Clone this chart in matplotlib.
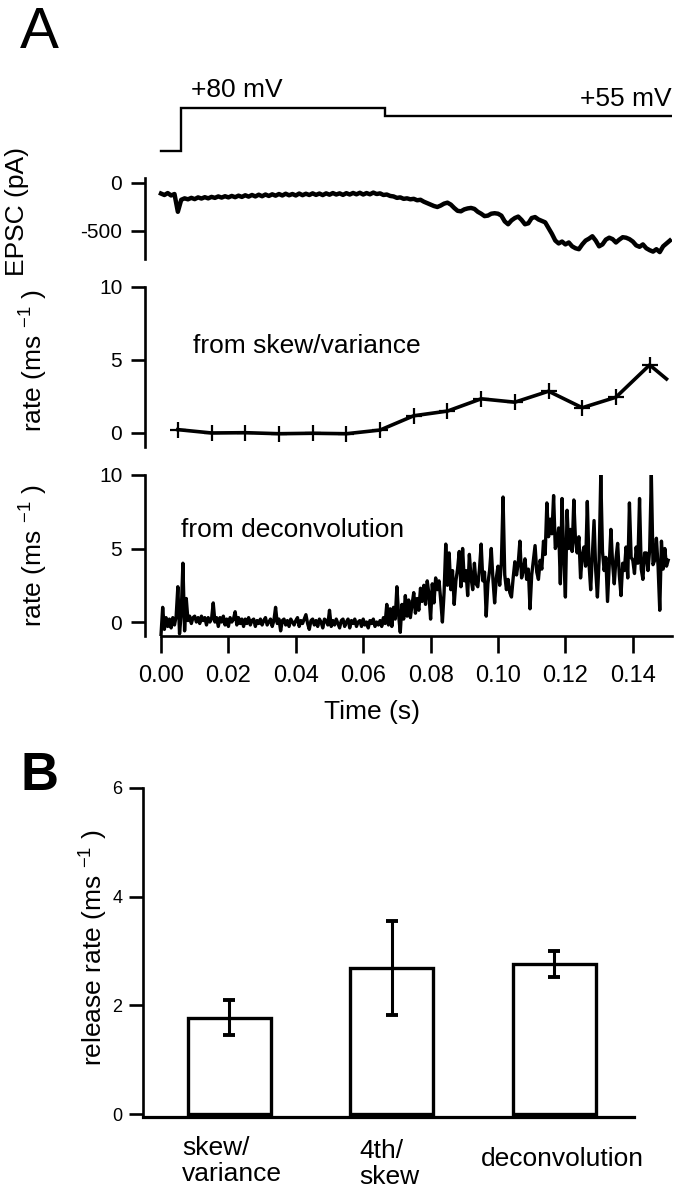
import numpy as np
import matplotlib
matplotlib.use("Agg")
import matplotlib.pyplot as plt

plt.rcParams['font.family'] = ['Liberation Sans', 'DejaVu Sans']
plt.rcParams['mathtext.fontset'] = 'custom'
plt.rcParams['mathtext.rm'] = 'Liberation Sans'
plt.rcParams['mathtext.it'] = 'Liberation Sans'

# --- data ---
# command voltage (mV): holding, step to +80, then +55
volt_t = [0.0, 0.0058, 0.0058, 0.0665, 0.0665, 0.1525]
volt_mv = [-70, -70, 80, 80, 55, 55]

# EPSC (pA), sampled every 1 ms from 0 to 0.151 s
epsc_dt = 0.001
epsc_pa = [
    -110, -125, -105, -130, -115, -300, -175, -160, -170, -155,
    -168, -150, -162, -148, -160, -145, -155, -140, -152, -138,
    -150, -135, -148, -132, -145, -128, -142, -125, -140, -122,
    -138, -120, -135, -118, -132, -115, -130, -112, -128, -115,
    -130, -110, -127, -112, -125, -108, -124, -110, -126, -108,
    -122, -105, -120, -108, -124, -106, -120, -104, -118, -102,
    -120, -105, -118, -100, -115, -108, -125, -120, -135, -140,
    -155, -150, -165, -160, -170, -165, -180, -175, -195, -210,
    -225, -240, -250, -235, -215, -205, -225, -260, -290, -295,
    -275, -265, -260, -270, -300, -320, -345, -340, -320, -315,
    -320, -340, -400, -430, -390, -365, -350, -385, -430, -420,
    -365, -355, -380, -395, -410, -470, -530, -600, -630, -610,
    -640, -620, -660, -680, -690, -640, -600, -580, -555, -600,
    -660, -640, -590, -570, -585, -620, -590, -565, -570, -585,
    -610, -650, -665, -640, -680, -700, -715, -690, -720, -660,
    -630, -600,
]

# rate from skew/variance (ms^-1)
skew_t = [0.005, 0.015, 0.025, 0.035, 0.045, 0.055, 0.065, 0.075,
          0.085, 0.095, 0.105, 0.115, 0.125, 0.135, 0.145, 0.150]
skew_rate = [0.23, 0.0, 0.02, -0.05, -0.02, -0.05, 0.2, 1.18,
             1.5, 2.34, 2.11, 2.86, 1.73, 2.45, 4.66, 3.7]

# rate from deconvolution (ms^-1), sampled every 0.5 ms
dec_dt = 0.0005
dec_rate = [
    -0.9, 1.0, -0.5, 0.3, -0.3, 0.2, -0.4, 0.3, -0.2, 0.4,
    2.4, -0.8, 0.6, 4.0, -0.6, 1.6, 0.1, 0.4, -0.1, 0.3,
    0.4, 0.0, 0.3, -0.1, 0.4, 0.1, 0.3, -0.2, 0.3, 0.0,
    0.2, 1.3, 0.0, 0.3, -0.3, 0.3, 0.0, 0.4, -0.2, 0.2,
    -0.3, 0.3, 0.0, 0.2, 0.7, -0.2, 0.3, -0.1, 0.2, -0.3,
    0.2, -0.1, 0.3, -0.2, 0.1, 0.2, -0.3, 0.1, -0.1, 0.2,
    -0.2, 0.1, 0.3, -0.2, 0.0, 0.2, -0.3, 0.1, 1.0, -0.1,
    0.2, -0.6, 0.1, 0.2, -0.2, 0.1, -0.3, 0.2, 0.0, -0.2,
    0.1, 0.3, -0.3, 0.1, -0.1, 0.2, 0.5, -0.1, -0.5, 0.1,
    0.2, -0.2, 0.1, -0.3, 0.2, 0.0, -0.4, 0.2, 0.1, -0.2,
    0.8, -0.3, 0.1, -0.2, 0.2, -0.1, -0.4, 0.1, 0.2, -0.3,
    0.0, 0.2, -0.4, 0.1, -0.1, 0.2, -0.3, 0.0, 0.1, -0.3,
    0.2, -0.2, 0.0, -0.4, 0.1, -0.1, 0.2, -0.3, 0.0, -0.2,
    0.1, -0.3, 0.3, -0.1,
    1.2, -0.2, 0.9, -0.3, 1.0, 0.2, 2.4, 0.5, -0.7, 1.2,
    0.2, 1.8, 0.4, 1.5, 0.3, 1.2, 2.0, 0.6, 1.6, 0.8,
    2.3, 1.4, 2.5, 1.2, 2.8, 1.9, 0.2, 2.6, 1.3, 3.0,
    2.2, 2.8, 1.5, 0.0, 2.0, 5.3, 2.5, 4.7, 2.2, 3.5,
    1.2, 2.8, 3.6, 4.8, 2.4, 5.0, 2.8, 3.5, 1.8, 4.6,
    3.0, 2.2, 4.0, 2.6,
    2.4, 3.6, 5.3, 2.8, 3.4, 0.4, 2.6, 3.5, 5.0, 2.9,
    1.3, 3.0, 3.8, 2.5, 4.0, 8.5, 3.2, 2.2, 2.9, 2.0,
    1.7, 3.0, 4.1, 3.2, 4.0, 5.5, 3.0, 3.5, 4.3, 2.9,
    3.6, 0.9, 3.2, 4.2, 5.2, 3.4, 2.9, 4.2, 3.6, 5.5,
    4.6, 8.1, 5.8, 7.0, 6.0, 8.6, 5.0, 5.35, 6.4, 2.6,
    8.4, 4.5, 1.7, 7.6, 5.0, 6.3, 4.8, 8.3, 5.5, 4.7,
    5.8, 3.0, 4.5, 5.1, 3.8, 8.2, 4.0, 2.2, 4.6, 6.9,
    3.5, 1.7, 4.2, 10.0, 4.8, 3.5, 4.4, 1.4, 3.9, 6.3,
    4.0, 2.6, 4.3, 5.35, 3.2, 1.8, 4.0, 3.5, 5.1, 3.0,
    8.1, 4.4, 4.2, 3.3, 5.1, 4.0, 8.4, 3.6, 2.9, 4.7,
    4.7, 3.5, 4.9, 10.0, 3.9, 4.2, 5.7, 3.8, 0.8, 5.5,
    3.6, 5.0, 3.8, 4.2,
]

# panel B
methods = ["skew/\nvariance", "4th/\nskew", "deconvolution"]
release_mean = [1.77, 2.69, 2.76]
release_err = [0.32, 0.87, 0.24]

# --- layout helpers (pixel coordinates, origin top-left) ---
W, H = 698, 1200
fig = plt.figure(figsize=(W / 100, H / 100), dpi=100)


def rect(x0, y0, x1, y1):
    return [x0 / W, 1 - y1 / H, (x1 - x0) / W, (y1 - y0) / H]


def ftext(x, y, s, **kw):
    fig.text(x / W, 1 - y / H, s, **kw)


LW_SPINE = 1.9
AX_L, AX_R = 144.5, 672
T_PER_PX = 1 / 3370.0
XLIM = (-(161 - AX_L) * T_PER_PX, (AX_R - 161) * T_PER_PX)


def style_left(ax, labelsize=15):
    for s in ['top', 'right', 'bottom']:
        ax.spines[s].set_visible(False)
    ax.spines['left'].set_linewidth(LW_SPINE)
    ax.tick_params(axis='y', length=10, width=LW_SPINE, pad=6,
                   labelsize=labelsize, direction='out')
    ax.set_xticks([])
    ax.set_xlim(*XLIM)


# voltage command
ax_v = fig.add_axes(rect(AX_L, 100, AX_R, 160))
ax_v.plot(volt_t, volt_mv, color='black', lw=1.7, solid_joinstyle='miter')
ax_v.set_xlim(*XLIM)
ax_v.set_ylim(-101.8, 110)
ax_v.axis('off')
ftext(191, 90, "+80 mV", fontsize=19, va='center', ha='left')
ftext(672, 99, "+55 mV", fontsize=19, va='center', ha='right')

# EPSC
ax_e = fig.add_axes(rect(AX_L, 178, AX_R, 259))
epsc_t = np.arange(len(epsc_pa)) * epsc_dt
ax_e.plot(epsc_t, epsc_pa, color='black', lw=3.2)
style_left(ax_e)
ax_e.set_ylim(-792, 52)
ax_e.set_yticks([0, -500])
ax_e.set_yticklabels(["0", "-500"])
ftext(17, 212, "EPSC (pA)", fontsize=19, rotation=90, va='center', ha='center')

# skew / variance
ax_s = fig.add_axes(rect(AX_L, 287, AX_R, 447))
ax_s.plot(skew_t, skew_rate, color='black', lw=2.6, marker='+', ms=11,
          mew=1.6, markevery=list(range(len(skew_t) - 1)))
style_left(ax_s)
ax_s.set_ylim(-0.96, 10)
ax_s.set_yticks([0, 5, 10])
ax_s.set_yticklabels(["0", "5", "10"])
ftext(193, 346, "from skew/variance", fontsize=19, va='center', ha='left')
ftext(34, 361, r"rate (ms $^{-1}$ )", fontsize=19, rotation=90,
      va='center', ha='center')

# deconvolution
ax_d = fig.add_axes(rect(AX_L, 475, AX_R, 636))
dec_t = np.arange(len(dec_rate)) * dec_dt
ax_d.plot(dec_t, dec_rate, color='black', lw=2.4)
style_left(ax_d)
ax_d.spines['bottom'].set_visible(True)
ax_d.spines['bottom'].set_linewidth(LW_SPINE)
ax_d.spines['bottom'].set_bounds(0, 0.1515)
ax_d.set_ylim(-0.95, 10)
ax_d.set_yticks([0, 5, 10])
ax_d.set_yticklabels(["0", "5", "10"])
xt = np.arange(0, 0.141, 0.02)
ax_d.set_xticks(xt)
ax_d.set_xticklabels([f"{v:.2f}" for v in xt])
ax_d.tick_params(axis='x', length=12, width=LW_SPINE, pad=9, labelsize=17)
ftext(181, 530, "from deconvolution", fontsize=19, va='center', ha='left')
ftext(34, 556, r"rate (ms $^{-1}$ )", fontsize=19, rotation=90,
      va='center', ha='center')
ftext(372, 712, "Time (s)", fontsize=19, va='center', ha='center')

ftext(20, 48, "A", fontsize=42, va='baseline', ha='left')

# panel B
ax_b = fig.add_axes(rect(143, 788, 634, 1117))
xpos = np.arange(len(methods))
ax_b.bar(xpos, release_mean, width=0.51, color='white', edgecolor='black',
         linewidth=2.4, zorder=2)
ax_b.errorbar(xpos, release_mean, yerr=release_err, fmt='none', ecolor='black',
              elinewidth=2.2, capsize=4, capthick=2.8, zorder=3)
for s in ['top', 'right']:
    ax_b.spines[s].set_visible(False)
ax_b.spines['left'].set_linewidth(LW_SPINE)
ax_b.spines['bottom'].set_linewidth(LW_SPINE + 0.4)
ax_b.set_xlim(-0.53, 2.49)
ax_b.set_ylim(-0.055, 6)
ax_b.set_yticks([0, 2, 4, 6])
ax_b.set_yticklabels(["0", "2", "4", "6"])
ax_b.tick_params(axis='y', length=10, width=LW_SPINE, pad=5, labelsize=13)
ax_b.set_xticks([])
ftext(182, 1161, methods[0], fontsize=19, va='center', ha='left',
      multialignment='left', linespacing=1.15)
ftext(359, 1164, methods[1], fontsize=19, va='center', ha='left',
      multialignment='left', linespacing=1.15)
ftext(481, 1159, methods[2], fontsize=19, va='center', ha='left')
ftext(94, 948, r"release rate (ms $^{-1}$ )", fontsize=19, rotation=90,
      va='center', ha='center')

ftext(20, 790, "B", fontsize=38, va='baseline', ha='left', weight='bold')

fig.savefig("out.png", dpi=100)
